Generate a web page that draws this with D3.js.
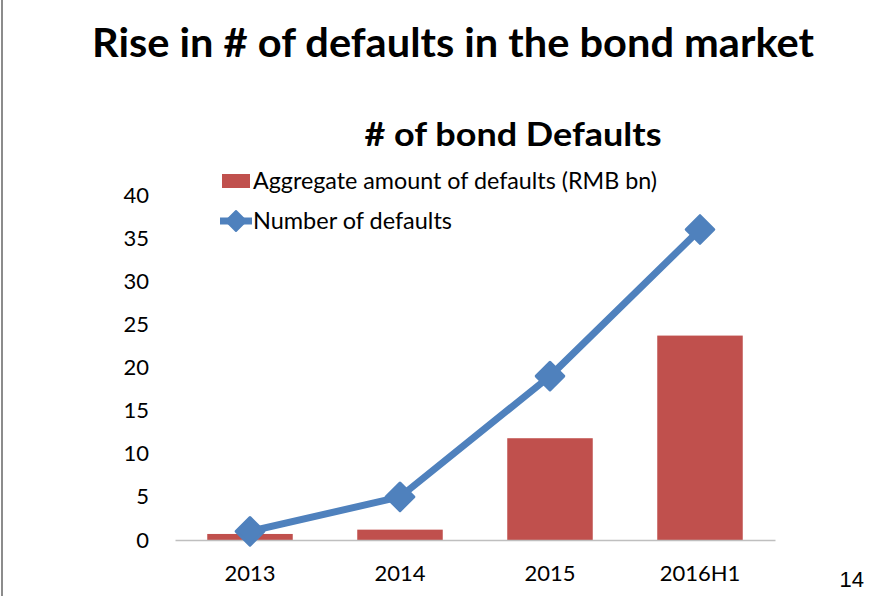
<!DOCTYPE html>
<html>
<head>
<meta charset="utf-8">
<script src="https://cdn.jsdelivr.net/npm/d3@7"></script>
<style>
  html, body { margin: 0; padding: 0; background: #fff; }
  svg { display: block; }
  text { font-family: Lato, "Open Sans", sans-serif; }
</style>
</head>
<body>
<svg id="chart" width="892" height="596"></svg>
<script>
// Bond default statistics by period
const periods = ["2013", "2014", "2015", "2016H1"];
const aggregateAmount = [0.7, 1.2, 11.8, 23.7];   // RMB bn
const defaultCount = [1, 5, 19, 36];
const yTicks = [0, 5, 10, 15, 20, 25, 30, 35, 40];

const pageTitle = "Rise in # of defaults in the bond market";
const chartTitle = "# of bond Defaults";
const legendBar = "Aggregate amount of defaults (RMB bn)";
const legendLine = "Number of defaults";
const pageNumber = "14";

const barColor = "#C0504D";
const lineColor = "#4F81BD";

const svg = d3.select("#chart");

// slide frame edge on the left
svg.append("line")
  .attr("x1", 2).attr("x2", 2).attr("y1", 0).attr("y2", 596)
  .attr("stroke", "#8c8c8c").attr("stroke-width", 2);

svg.append("text")
  .attr("x", 453).attr("y", 57)
  .attr("text-anchor", "middle")
  .attr("font-size", 40).attr("font-weight", 700)
  .attr("textLength", 722).attr("lengthAdjust", "spacingAndGlyphs")
  .attr("fill", "#000")
  .text(pageTitle);

svg.append("text")
  .attr("x", 513).attr("y", 146)
  .attr("text-anchor", "middle")
  .attr("font-size", 33).attr("font-weight", 700)
  .attr("textLength", 297).attr("lengthAdjust", "spacingAndGlyphs")
  .attr("fill", "#000")
  .text(chartTitle);

const plot = { left: 175, right: 775, top: 195, bottom: 540 };

const x = d3.scaleBand()
  .domain(periods)
  .range([plot.left, plot.right])
  .paddingInner(0.43)
  .paddingOuter(0.215);

const y = d3.scaleLinear()
  .domain([0, 40])
  .range([plot.bottom, plot.top]);

// y axis: labels only
const yAxis = svg.append("g")
  .attr("transform", `translate(${plot.left - 26},0)`)
  .call(d3.axisLeft(y).tickValues(yTicks).tickSize(0).tickPadding(0));
yAxis.select(".domain").remove();
yAxis.selectAll("text")
  .attr("font-size", 22)
  .attr("fill", "#000")
  .style("font-family", "Lato, 'Open Sans', sans-serif");

// bars
svg.append("g").selectAll("rect")
  .data(periods)
  .join("rect")
  .attr("x", d => x(d))
  .attr("width", x.bandwidth())
  .attr("y", (d, i) => y(aggregateAmount[i]))
  .attr("height", (d, i) => y(0) - y(aggregateAmount[i]))
  .attr("fill", barColor);

// x axis
const xAxis = svg.append("g")
  .attr("transform", `translate(0,${plot.bottom})`)
  .call(d3.axisBottom(x).tickSize(0).tickPadding(25));
xAxis.select(".domain").attr("stroke", "#bfbfbf").attr("stroke-width", 1.5);
xAxis.selectAll("text")
  .attr("font-size", 22)
  .attr("fill", "#000")
  .style("font-family", "Lato, 'Open Sans', sans-serif");

// line series
const cx = d => x(d) + x.bandwidth() / 2;
const line = d3.line()
  .x(d => cx(d))
  .y((d, i) => y(defaultCount[i]));

svg.append("path")
  .datum(periods)
  .attr("d", line)
  .attr("fill", "none")
  .attr("stroke", lineColor)
  .attr("stroke-width", 7)
  .attr("stroke-linejoin", "round");

const diamond = d3.symbol().type(d3.symbolSquare).size(380);
svg.append("g").selectAll("path")
  .data(periods)
  .join("path")
  .attr("d", diamond)
  .attr("transform", (d, i) => `translate(${cx(d)},${y(defaultCount[i])}) rotate(45)`)
  .attr("fill", lineColor)
  .attr("stroke", lineColor)
  .attr("stroke-width", 3)
  .attr("stroke-linejoin", "round");

// legend
const legend = svg.append("g");
legend.append("rect")
  .attr("x", 222).attr("y", 174).attr("width", 28).attr("height", 14)
  .attr("fill", barColor);
legend.append("text")
  .attr("x", 253).attr("y", 189)
  .attr("font-size", 23).attr("fill", "#000")
  .attr("textLength", 404).attr("lengthAdjust", "spacingAndGlyphs")
  .text(legendBar);

legend.append("line")
  .attr("x1", 220).attr("x2", 252).attr("y1", 221).attr("y2", 221)
  .attr("stroke", lineColor).attr("stroke-width", 7);
legend.append("path")
  .attr("d", d3.symbol().type(d3.symbolSquare).size(200))
  .attr("transform", "translate(236,221) rotate(45)")
  .attr("fill", lineColor)
  .attr("stroke", lineColor)
  .attr("stroke-width", 2)
  .attr("stroke-linejoin", "round");
legend.append("text")
  .attr("x", 253).attr("y", 229)
  .attr("font-size", 23).attr("fill", "#000")
  .attr("textLength", 199).attr("lengthAdjust", "spacingAndGlyphs")
  .text(legendLine);

svg.append("text")
  .attr("x", 864).attr("y", 587)
  .attr("text-anchor", "end")
  .attr("font-size", 22)
  .style("font-family", "'Liberation Sans', Arial, sans-serif")
  .attr("fill", "#000")
  .text(pageNumber);
</script>
</body>
</html>
